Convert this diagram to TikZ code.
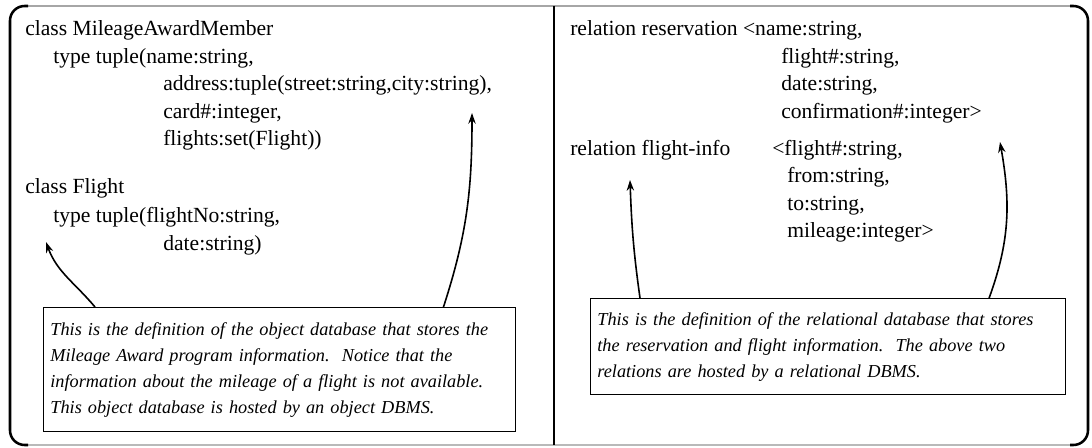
\documentclass[tikz,border=0pt]{standalone}
\usepackage{fontspec}
\setmainfont{Liberation Serif}
\usetikzlibrary{arrows.meta}

\tikzset{
  line/.style={anchor=base west, inner sep=0pt, font=\fontsize{16.2pt}{19pt}\selectfont},
  notebox/.style={draw, line width=1.1pt, anchor=north west, align=left,
    inner xsep=5pt, inner ysep=0pt, font=\fontsize{13.7pt}{19.5pt}\selectfont\itshape},
  pointer/.style={line width=1.2pt, -{Stealth[length=8pt,width=5.5pt]}},
}

\begin{document}
\begin{tikzpicture}[x=0.75pt,y=-0.75pt]
    \useasboundingbox (0,0) rectangle (1092,448);

    % frame
    \draw[gray!70, line width=0.9pt] (22,6) -- (1076,6);
    \draw[gray!55, line width=0.9pt] (22,445) -- (1076,445);
    \draw[line width=1.9pt, rounded corners=11pt] (28,6) -- (10,6) -- (10,445) -- (28,445);
    \draw[line width=1.9pt, rounded corners=11pt] (1070,6) -- (1088,6) -- (1088,445) -- (1070,445);
    \draw[line width=1.7pt] (554,6) -- (554,445);

    % object database
    \node[line] (member)   at (25,36)  {class MileageAwardMember};
    \node[line] (membertp) at (53,64)  {type tuple(name:string,};
    \node[line] (address)  at (163,91) {address:tuple(street:string,city:string),};
    \node[line] (card)     at (163,119) {card\#:integer,};
    \node[line] (flights)  at (163,146) {flights:set(Flight))};
    \node[line] (flight)   at (25,194) {class Flight};
    \node[line] (flighttp) at (53,223) {type tuple(flightNo:string,};
    \node[line] (date)     at (163,251) {date:string)};

    \node[notebox, minimum width=354pt, minimum height=93pt, text width=344pt] (objnote) at (43,307)
      {This is the definition of the object database that stores the\\
       Mileage Award program information.\ \ Notice that the\\
       information about the mileage of a flight is not available.\\
       This object database is hosted by an object DBMS.};

    % relational database
    \node[line] (resv)     at (570,36)  {relation reservation <name:string,};
    \node[line] (resvno)   at (781,64)  {flight\#:string,};
    \node[line] (resvdate) at (781,91)  {date:string,};
    \node[line] (resvconf) at (781,119) {confirmation\#:integer>};
    \node[line] (info)     at (570,156) {relation flight-info};
    \node[line] (infono)   at (772,156) {<flight\#:string,};
    \node[line] (infofrom) at (787,183) {from:string,};
    \node[line] (infoto)   at (787,211) {to:string,};
    \node[line] (infomile) at (787,238) {mileage:integer>};

    \node[notebox, minimum width=356pt, minimum height=72pt, text width=346pt] (relnote) at (590,298)
      {This is the definition of the relational database that stores\\
       the reservation and flight information.\ \ The above two\\
       relations are hosted by a relational DBMS.};

    \coordinate (tipflight) at (46,242);
    \coordinate (tipmember) at (472,113);
    \coordinate (tipinfo)   at (630,180);
    \coordinate (tipresv)   at (1000,142);

    \draw[pointer] ([xshift=39pt]objnote.north west) to[out=130,in=-70] (tipflight);
    \draw[pointer] ([xshift=-54.75pt]objnote.north east) to[out=72,in=-90] (tipmember);
    \draw[pointer] ([xshift=37.5pt]relnote.north west) to[out=98,in=-88] (tipinfo);
    \draw[pointer] ([xshift=-57.75pt]relnote.north east) to[out=70,in=-80] (tipresv);

  \end{tikzpicture}
\end{document}
